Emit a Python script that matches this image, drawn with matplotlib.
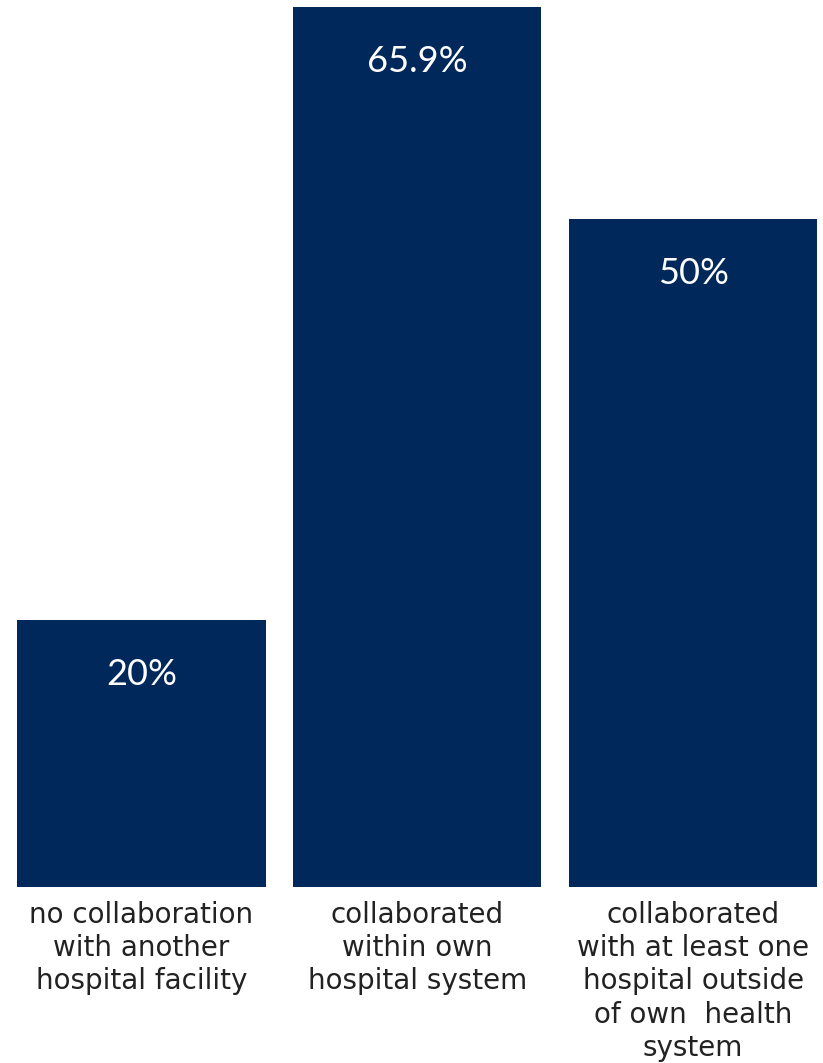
import matplotlib.pyplot as plt

categories = [
    "no collaboration\nwith another\nhospital facility",
    "collaborated\nwithin own\nhospital system",
    "collaborated\nwith at least one\nhospital outside\nof own  health\nsystem",
]
values = [20, 65.9, 50]
value_labels = ["20%", "65.9%", "50%"]

navy = "#00285a"

fig = plt.figure(figsize=(8.23, 10.63), dpi=100)
ax = fig.add_axes([0, 0.1656, 1, 0.8278])

x = range(len(values))
bars = ax.bar(x, values, width=0.9, color=navy)

ax.set_xlim(-0.513, 2.471)
ax.set_ylim(0, 65.9)

for bar, lab in zip(bars, value_labels):
    ax.annotate(lab, (bar.get_x() + bar.get_width() / 2, bar.get_height()),
                xytext=(0, -39), textcoords="offset points",
                ha="center", va="center", color="white",
                fontsize=26, family="Lato", fontweight="normal")

ax.set_xticks(list(x))
ax.set_xticklabels(categories, fontsize=20, family="DejaVu Sans",
                   color="#222222", linespacing=1.24)
ax.tick_params(axis="x", length=0, pad=10)
ax.set_yticks([])
for s in ax.spines.values():
    s.set_visible(False)

fig.savefig("out.png", dpi=100)
